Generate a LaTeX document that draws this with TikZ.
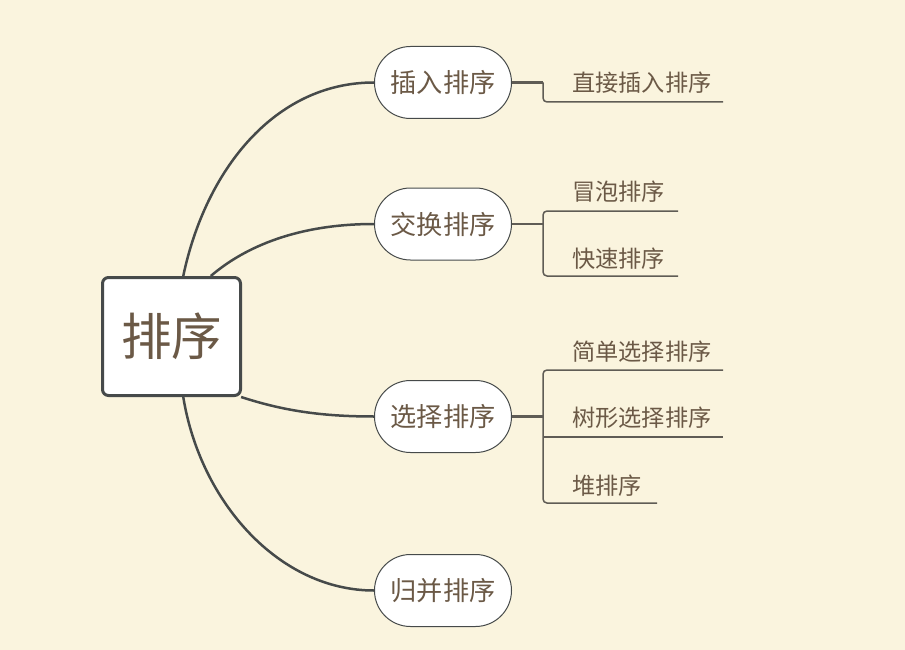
\documentclass[tikz,border=0pt]{standalone}
\usepackage{fontspec}
\newfontfamily\cjk{Noto Sans CJK SC}
\usetikzlibrary{calc}
\definecolor{bg}{RGB}{250,244,222}
\definecolor{ink}{RGB}{70,74,74}
\definecolor{txt}{RGB}{107,89,70}
\definecolor{brk}{RGB}{95,92,85}
\pgfdeclarelayer{background}
\pgfsetlayers{background,main}
\begin{document}
\begin{tikzpicture}[x=1pt,y=-1pt,
 rootbox/.style={draw=ink, line width=3pt, rounded corners=6pt, fill=white, minimum width=138pt, minimum height=118pt, inner sep=0pt, font=\cjk\fontsize{50.5}{50.5}\selectfont, text=txt},
 pill/.style={draw=ink, line width=1pt, rounded corners=36pt, fill=white, minimum width=137pt, minimum height=72pt, inner sep=0pt, font=\cjk\fontsize{26.2}{26.2}\selectfont, text=txt},
 leaf/.style={anchor=west, inner sep=0pt, font=\cjk\fontsize{23.2}{23.2}\selectfont, text=txt},
 branch/.style={draw=ink, line width=2.5pt},
 stem/.style={draw=brk, line width=2.2pt},
 bracket/.style={draw=brk, line width=1.5pt, rounded corners=4pt}]
\useasboundingbox (0,0) rectangle (905,650);
\begin{pgfonlayer}{background}
\fill[bg] (0,0) rectangle (905,650);
\end{pgfonlayer}
% nodes
\node[rootbox] (root) at (171.5,336.5) {排序};
\node[pill] (n1) at (443,82.5) {插入排序};
\node[pill] (n2) at (443,224) {交换排序};
\node[pill] (n3) at (443,416.5) {选择排序};
\node[pill] (n4) at (443,590.5) {归并排序};
\node[leaf] (l1) at (572,83) {直接插入排序};
\node[leaf] (l2) at (572,192) {冒泡排序};
\node[leaf] (l3) at (572,259) {快速排序};
\node[leaf] (l4) at (572,352) {简单选择排序};
\node[leaf] (l5) at (572,418) {树形选择排序};
\node[leaf] (l6) at (572,486) {堆排序};
% junction and underline coordinates
\coordinate (j1) at (543,82.5);
\coordinate (j2) at (543,224);
\coordinate (j3) at (543,416.5);
\coordinate (u1) at (723,102);
\coordinate (u2) at (678,211);
\coordinate (u3) at (678,276);
\coordinate (u4) at (723,370);
\coordinate (u5) at (723,437);
\coordinate (u6) at (657,503);
% main branches
\begin{pgfonlayer}{background}
\draw[branch] (root.79) .. controls +(22,-105) and +(-100,0) .. (n1.west);
\draw[branch] (root.57) .. controls +(35,-30) and +(-75,0) .. (n2.west);
\draw[branch] (root.-41) .. controls +(40,13) and +(-55,0) .. (n3.west);
\draw[branch] (root.-79) .. controls +(17,105) and +(-95,0) .. (n4.west);
\end{pgfonlayer}
% sub branches
\draw[stem] (n1.east) -- (j1);
\draw[bracket] (j1) |- (u1);
\draw[stem] (n2.east) -- (j2);
\draw[bracket] (u2) -| (j2) |- (u3);
\draw[stem] (n3.east) -- (j3);
\draw[bracket] (u4) -| (j3) |- (u6);
\draw[bracket] (j3 |- u5) -- (u5);
\end{tikzpicture}
\end{document}
